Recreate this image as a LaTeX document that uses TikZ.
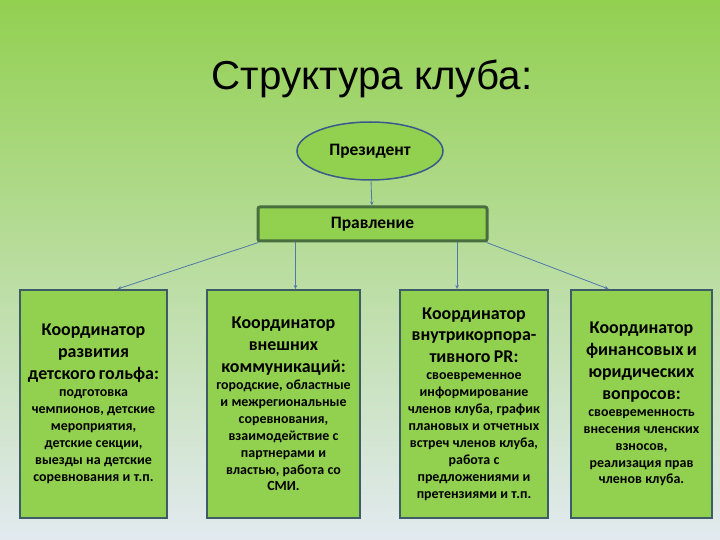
\documentclass[tikz,border=0pt]{standalone}
\usepackage{fontspec}
\setmainfont{Carlito}
\newfontfamily\titlefont{Liberation Sans}
\usepackage{xcolor}
\usetikzlibrary{shapes.geometric}
\usetikzlibrary{arrows.meta}
\usetikzlibrary{positioning}

\definecolor{leaf}{RGB}{146,208,80}
\definecolor{bgtop}{RGB}{146,208,80}
\definecolor{bgmid}{RGB}{188,222,160}
\definecolor{bgbot}{RGB}{226,234,240}
\definecolor{boxline}{RGB}{62,92,104}
\definecolor{boardline}{RGB}{72,110,64}
\definecolor{presline}{RGB}{58,90,140}
\definecolor{linkcol}{RGB}{80,120,170}

\newcommand{\headtext}{\fontsize{18}{22}\selectfont\bfseries}
\newcommand{\bodytext}{\fontsize{14}{17}\selectfont\bfseries}

\begin{document}
\begin{tikzpicture}[
  x=1bp, y=-1bp,
  pres/.style={ellipse, draw=presline, line width=1.5bp, fill=leaf,
    minimum width=146bp, minimum height=58bp, inner sep=0pt,
    font=\fontsize{17.5}{20}\selectfont\bfseries},
  board/.style={rectangle, rounded corners=2bp, draw=boardline, line width=3bp, fill=leaf,
    minimum width=229bp, minimum height=34bp, inner sep=0pt,
    font=\fontsize{17.5}{20}\selectfont\bfseries},
  coord/.style={rectangle, draw=boxline, line width=2bp, fill=leaf,
    minimum height=228bp, inner sep=0pt, align=center},
  link/.style={draw=linkcol, line width=0.8bp, -{Stealth[length=4bp,width=3.5bp]}}
]
% background
\shade[top color=bgtop, middle color=bgmid, bottom color=bgbot] (0,0) rectangle (720,540);
\useasboundingbox (0,0) rectangle (720,540);

\node[font=\titlefont\fontsize{40.5}{44}\selectfont] (title) at (372,79) {Структура клуба:};

\node[pres] (pres) at (370,151) {Президент};
\node[board] (board) at (372.5,224) {Правление};

% coordinators
\node[coord, minimum width=147bp, text width=142bp] (c1) at (93.5,404)
  {{\headtext Координатор\\развития\\детского гольфа:\par}
   {\bodytext подготовка\\чемпионов, детские\\мероприятия,\\детские секции,\\выезды на детские\\соревнования и т.п.\par}};
\node[coord, minimum width=153bp, text width=148bp] (c2) at (283.5,404)
  {{\headtext Координатор\\внешних\\коммуникаций:\par}
   {\bodytext городские, областные\\и межрегиональные\\соревнования,\\взаимодействие с\\партнерами и\\властью, работа со\\СМИ.\par}};
\node[coord, minimum width=148bp, text width=144bp] (c3) at (474,404)
  {{\headtext Координатор\\внутрикорпора-\\тивного PR:\par}
   {\bodytext своевременное\\информирование\\членов клуба, график\\плановых и отчетных\\встреч членов клуба,\\работа с\\предложениями и\\претензиями и т.п.\par}};
\node[coord, minimum width=141bp, text width=137bp] (c4) at (641.5,404)
  {{\headtext Координатор\\финансовых и\\юридических\\вопросов:\par}
   {\bodytext своевременность\\внесения членских\\взносов,\\реализация прав\\членов клуба.\par}};

% connectors
\draw[link] (pres) -- (board);
\draw[link] ([xshift=2]board.south west) -- ([xshift=24]c1.north);
\draw[link] ([xshift=12]c2.north |- board.south) -- ([xshift=12]c2.north);
\draw[link] ([xshift=-17]c3.north |- board.south) -- ([xshift=-17]c3.north);
\draw[link] ([xshift=-2]board.south east) -- ([xshift=-33]c4.north);
\end{tikzpicture}
\end{document}
